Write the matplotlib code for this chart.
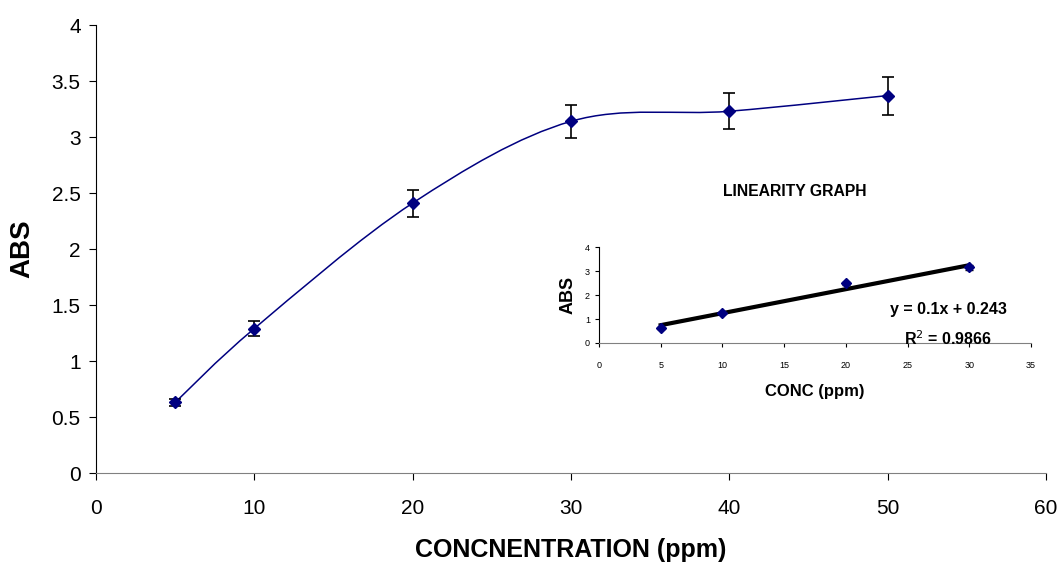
import numpy as np
import matplotlib
matplotlib.use("Agg")
import matplotlib.pyplot as plt
from matplotlib.path import Path
from matplotlib.patches import PathPatch

plt.rcParams["font.family"] = ["Liberation Sans", "DejaVu Sans"]

# Main chart data
conc = [5, 10, 20, 30, 40, 50]
absorb = [0.63, 1.29, 2.41, 3.14, 3.23, 3.37]
abs_err = [0.03, 0.07, 0.12, 0.15, 0.16, 0.17]

# Inset (linearity) data
lin_conc = [5, 10, 20, 30]
lin_abs = [0.63, 1.25, 2.48, 3.15]
lin_err = [0.04, 0.05, 0.05, 0.12]
slope, intercept = 0.1, 0.243

NAVY = "#000080"


def smooth_path(xs, ys, tension=1 / 6):
    """Excel-style smoothed line as a cubic Bezier path through the points."""
    xs, ys = np.asarray(xs, float), np.asarray(ys, float)
    pts = np.column_stack([xs, ys])
    verts = [pts[0]]
    codes = [Path.MOVETO]
    n = len(pts)
    for i in range(n - 1):
        p0 = pts[i - 1] if i > 0 else pts[i]
        p1, p2 = pts[i], pts[i + 1]
        p3 = pts[i + 2] if i + 2 < n else pts[i + 1]
        c1 = p1 + (p2 - p0) * tension
        c2 = p2 - (p3 - p1) * tension
        verts += [c1, c2, p2]
        codes += [Path.CURVE4] * 3
    return Path(verts, codes)


fig = plt.figure(figsize=(10.63, 5.71), dpi=100)
ax = fig.add_axes([0.0903, 0.1716, 0.8937, 0.7846])

ax.add_patch(PathPatch(smooth_path(conc, absorb), fill=False, edgecolor=NAVY, lw=1.1))
ax.errorbar(conc, absorb, yerr=abs_err, fmt="none", ecolor="black", elinewidth=1.2,
            capsize=4.5, capthick=1.2)
ax.plot(conc, absorb, linestyle="none", marker="D", color=NAVY, markersize=6.5)

ax.set_xlim(0, 60)
ax.set_ylim(0, 4)
ax.set_xticks(np.arange(0, 61, 10))
ax.set_yticks(np.arange(0, 4.01, 0.5))
ax.set_yticklabels(["0", "0.5", "1", "1.5", "2", "2.5", "3", "3.5", "4"])
for s in ["top", "right"]:
    ax.spines[s].set_visible(False)
ax.spines["bottom"].set_color("#808080")
ax.tick_params(labelsize=15, direction="out", length=5)
ax.tick_params(axis="x", pad=14)
ax.tick_params(axis="y", pad=6)
ax.set_xlabel("CONCNENTRATION (ppm)", fontsize=18, fontweight="bold", labelpad=14)
ax.set_ylabel("ABS", fontsize=20, fontweight="bold", labelpad=12)

fig.text(0.748, 0.665, "LINEARITY GRAPH", fontsize=11.3, fontweight="bold",
         ha="center", va="center")

# Inset
ins = fig.add_axes([0.5635, 0.3993, 0.4064, 0.1681])
xf = np.array([lin_conc[0], lin_conc[-1]])
ins.plot(xf, slope * xf + intercept, color="black", lw=3, zorder=2)
ins.errorbar(lin_conc, lin_abs, yerr=lin_err, fmt="none", ecolor="black", elinewidth=1,
             capsize=3, capthick=1, zorder=3)
ins.plot(lin_conc, lin_abs, linestyle="none", marker="D", color=NAVY, markersize=5.5, zorder=4)
ins.set_xlim(0, 35)
ins.set_ylim(0, 4)
ins.set_xticks(np.arange(0, 36, 5))
ins.set_yticks(np.arange(0, 5, 1))
for s in ["top", "right"]:
    ins.spines[s].set_visible(False)
ins.spines["bottom"].set_color("#808080")
ins.tick_params(labelsize=6.5, direction="out", length=3)
ins.tick_params(axis="x", pad=10)
ins.set_xlabel("CONC (ppm)", fontsize=12, fontweight="bold", labelpad=10)
ins.set_ylabel("ABS", fontsize=13, fontweight="bold", labelpad=6)
ins.text(28.3, 1.38, "y = 0.1x + 0.243", fontsize=11.5, fontweight="bold",
         ha="center", va="center")
ins.text(28.3, 0.2, "R$^2$ = 0.9866", fontsize=11.5, fontweight="bold",
         ha="center", va="center")

fig.savefig("out.png", dpi=100)
